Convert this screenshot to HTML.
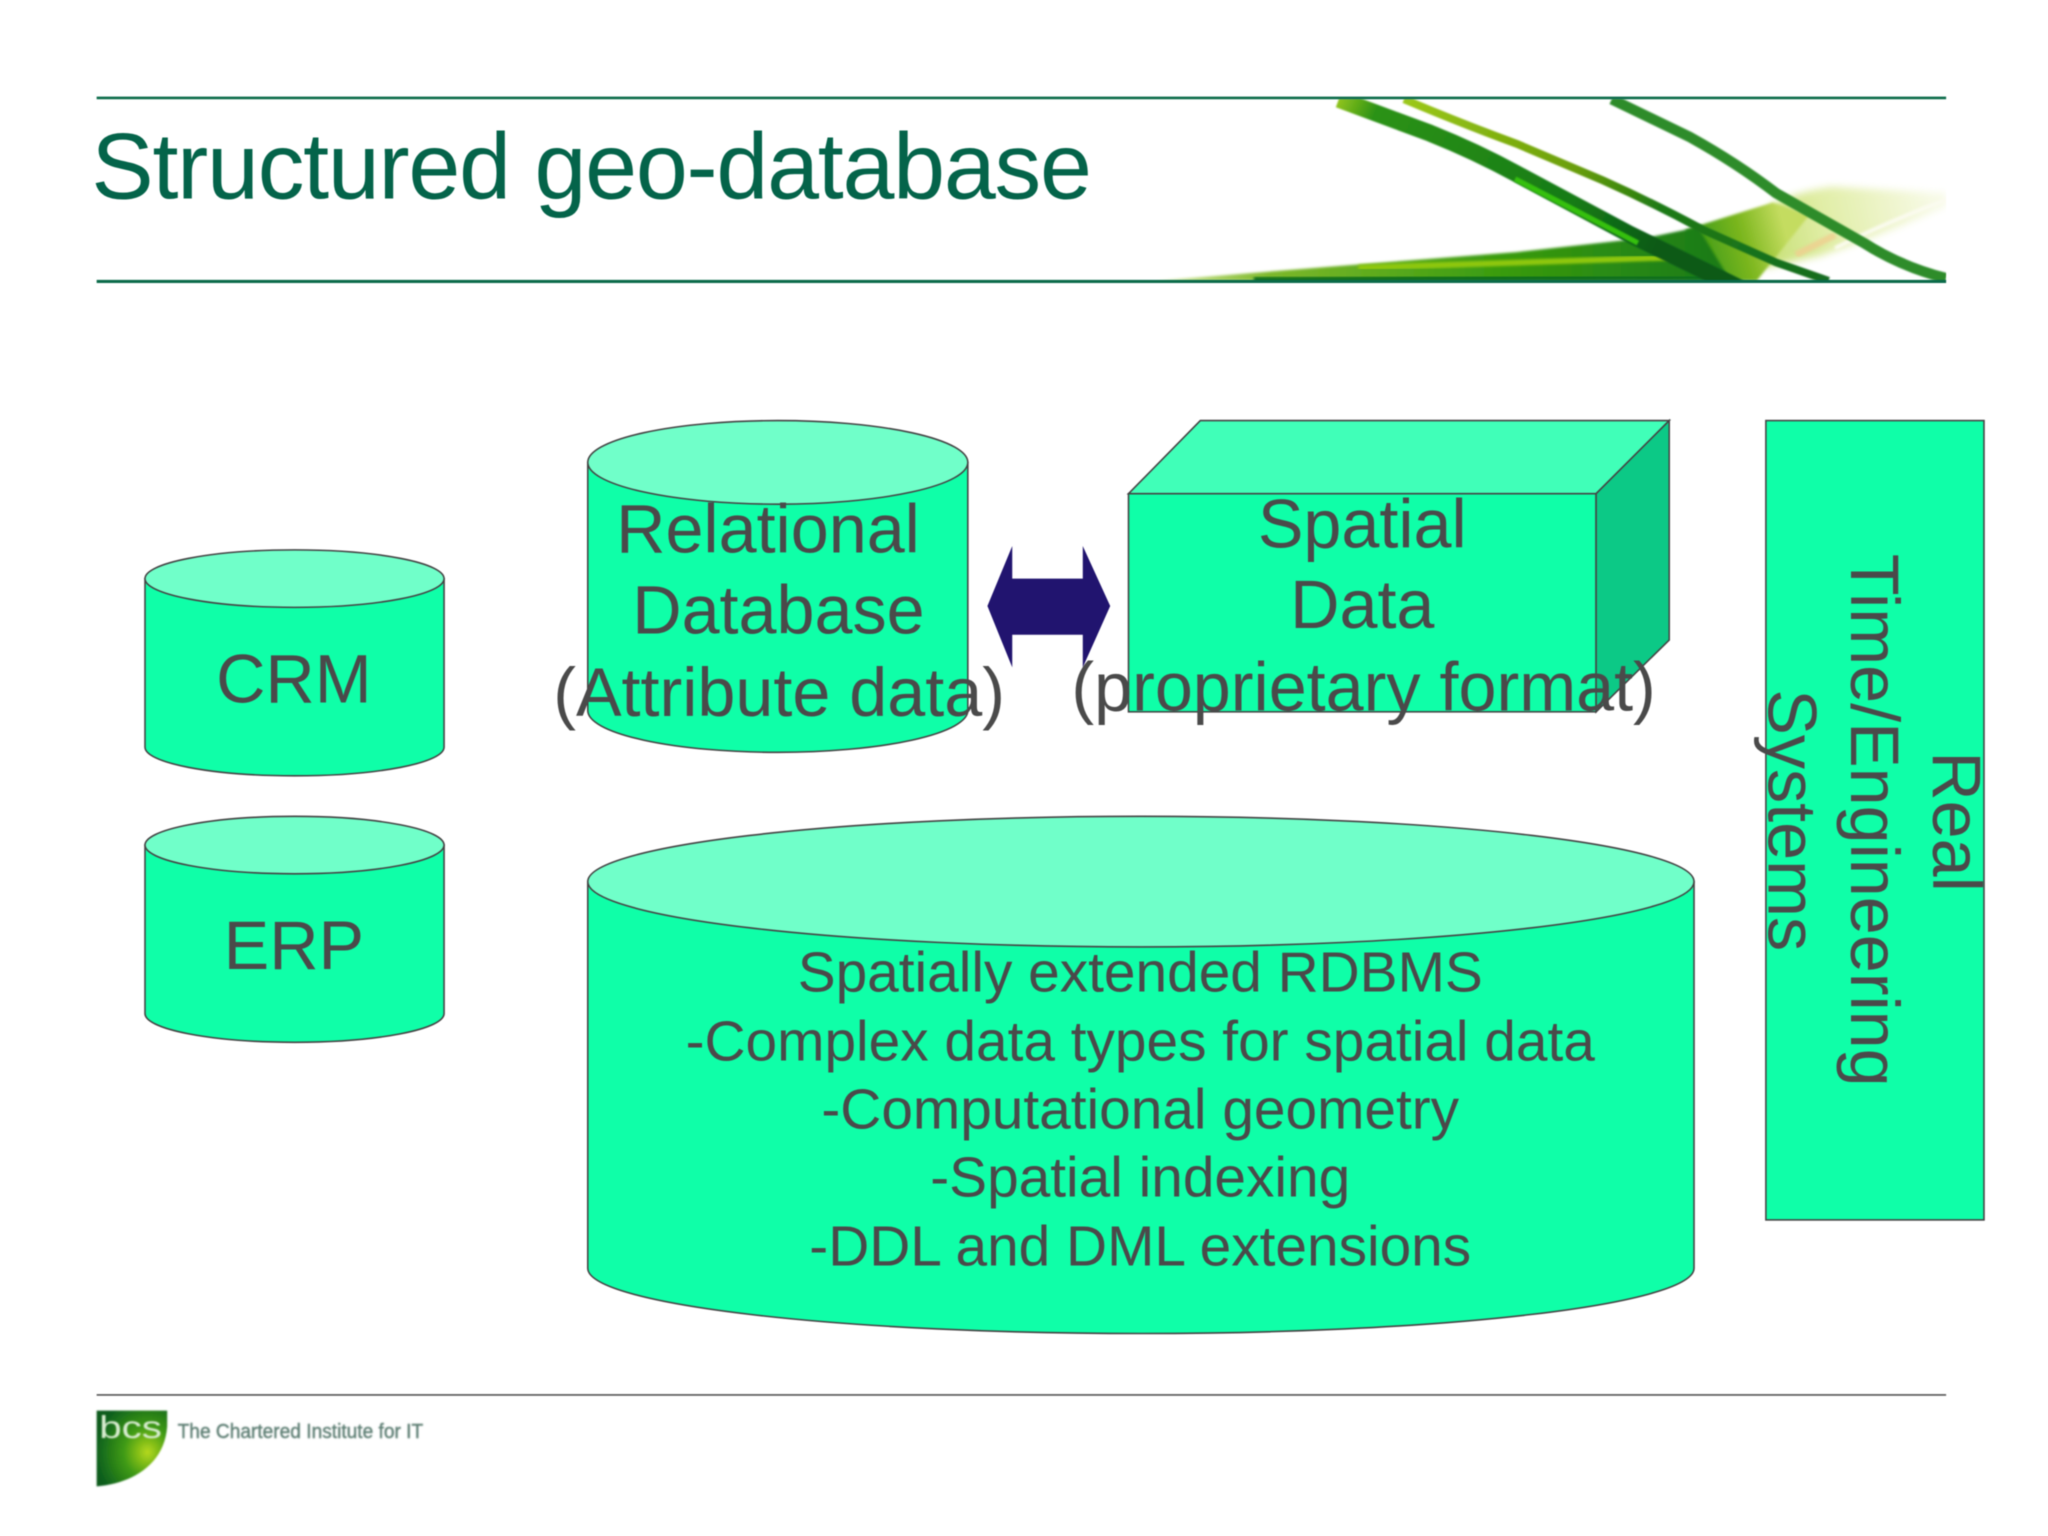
<!DOCTYPE html>
<html><head><meta charset="utf-8"><title>Structured geo-database</title>
<style>html,body{margin:0;padding:0;background:#fff;width:2048px;height:1536px;overflow:hidden}svg{display:block;filter:blur(.4px)}text{font-family:"Liberation Sans",Arial,sans-serif}</style>
</head><body>
<svg width="2048" height="1536" viewBox="0 0 1568 1176" xmlns="http://www.w3.org/2000/svg">
<defs>
<clipPath id="hdr"><rect x="800" y="76" width="690" height="139"/></clipPath>
<linearGradient id="sweep" gradientUnits="userSpaceOnUse" x1="885" y1="0" x2="1320" y2="0"><stop offset="0" stop-color="#d8eca0"/><stop offset=".2" stop-color="#7db82a"/><stop offset=".6" stop-color="#3a9c10"/><stop offset="1" stop-color="#1a7a14"/></linearGradient>
<linearGradient id="mid" gradientUnits="userSpaceOnUse" x1="1290" y1="190" x2="1365" y2="170"><stop offset="0" stop-color="#2f9414"/><stop offset=".6" stop-color="#7fb820"/><stop offset="1" stop-color="#c4dc60"/></linearGradient>
<linearGradient id="haze" gradientUnits="userSpaceOnUse" x1="1340" y1="180" x2="1480" y2="150"><stop offset="0" stop-color="#a8d030"/><stop offset=".4" stop-color="#d4e680"/><stop offset="1" stop-color="#f4f8dc"/></linearGradient>
<linearGradient id="sA" gradientUnits="userSpaceOnUse" x1="1020" y1="76" x2="1330" y2="215"><stop offset="0" stop-color="#a0cc20"/><stop offset=".1" stop-color="#2c9212"/><stop offset=".6" stop-color="#157a14"/><stop offset=".8" stop-color="#0a5a18"/><stop offset="1" stop-color="#0a5a18"/></linearGradient>
<linearGradient id="sB" gradientUnits="userSpaceOnUse" x1="1075" y1="76" x2="1400" y2="214"><stop offset="0" stop-color="#9cc81a"/><stop offset=".4" stop-color="#6a9e08"/><stop offset=".6" stop-color="#1f7a14"/><stop offset="1" stop-color="#136c20"/></linearGradient>
<radialGradient id="shield" cx=".72" cy=".55" r=".75"><stop offset="0" stop-color="#b4d81c"/><stop offset=".45" stop-color="#3f9a14"/><stop offset="1" stop-color="#0a5c1e"/></radialGradient>
<filter id="b1" x="-10%" y="-10%" width="120%" height="120%"><feGaussianBlur stdDeviation="1"/></filter>
<filter id="b3" x="-20%" y="-20%" width="140%" height="140%"><feGaussianBlur stdDeviation="3"/></filter>
<filter id="b04" x="-10%" y="-10%" width="120%" height="120%"><feGaussianBlur stdDeviation="0.6"/></filter>
</defs>

<rect width="1568" height="1176" fill="#fff"/>

<!-- header swoosh -->
<g clip-path="url(#hdr)">
  <path d="M1357 156 Q1380 146 1403 143 L1490 148 L1490 158 Q1440 180 1393 196 L1350 205Z" fill="url(#haze)" opacity=".7" filter="url(#b3)"/>
  <path d="M1490 153 Q1440 172 1405 190" fill="none" stroke="#fbfbf0" stroke-width="3" filter="url(#b1)"/>
  <path d="M1375 195 L1405 180" fill="none" stroke="#efcf90" stroke-width="5" opacity=".8" filter="url(#b1)"/>
  <path d="M1290 176 L1357 155 L1385 165 L1365 190 L1345 215 L1320 215Z" fill="url(#mid)" filter="url(#b1)"/>
  <path d="M885 215 Q1030 203 1161 193 L1261 182 L1300 174 L1325 215Z" fill="url(#sweep)" filter="url(#b1)"/>
  <path d="M1040 205 L1285 197" fill="none" stroke="#8fc810" stroke-width="4.500" filter="url(#b1)"/>
  <path d="M960 214 L1320 212" fill="none" stroke="#0f6e1a" stroke-width="4" filter="url(#b1)"/>
  <path d="M1025 76 L1095 102 Q1130 116 1161 133 L1247 179 L1335 222" fill="none" stroke="url(#sA)" stroke-width="13" filter="url(#b04)"/>
  <path d="M1160 137 L1254 186" fill="none" stroke="#36c010" stroke-width="4" filter="url(#b04)"/>
  <path d="M1075 76 Q1120 95 1161 110 L1227 138 Q1265 155 1304 176 L1360 201 L1400 215" fill="none" stroke="url(#sB)" stroke-width="6" filter="url(#b04)"/>
  <path d="M1234 76 L1294 105 Q1330 125 1360 148 L1427 186 Q1455 204 1490 213" fill="none" stroke="#2f8c2a" stroke-width="8" filter="url(#b04)"/>
</g>

<!-- header lines -->
<line x1="74" y1="75" x2="1490" y2="75" stroke="#0b6b4a" stroke-width="2"/>
<line x1="74" y1="215.500" x2="1490" y2="215.500" stroke="#0b6b4a" stroke-width="2.400"/>

<text x="70" y="152" font-size="71.500" fill="#04644a" textLength="766">Structured geo-database</text>

<!-- CRM -->
<g stroke="#444" stroke-width="1.200">
<path d="M111 443 V572 A114.5 22 0 0 0 340 572 V443Z" fill="#0fffa8"/>
<ellipse cx="225.500" cy="443" rx="114.500" ry="22" fill="#70ffc9"/>
<!-- ERP -->
<path d="M111 647 V776 A114.5 22 0 0 0 340 776 V647Z" fill="#0fffa8"/>
<ellipse cx="225.500" cy="647" rx="114.500" ry="22" fill="#70ffc9"/>
<!-- Relational -->
<path d="M450 354 V544 A145.500 32 0 0 0 741 544 V354Z" fill="#0fffa8"/>
<ellipse cx="595.500" cy="354" rx="145.500" ry="32" fill="#70ffc9"/>
<!-- Big -->
<path d="M450 675 V971 A423.500 50 0 0 0 1297 971 V675Z" fill="#0fffa8"/>
<ellipse cx="873.500" cy="675" rx="423.500" ry="50" fill="#70ffc9"/>
<!-- Box -->
<rect x="864" y="378" width="358" height="167" fill="#0fffa8"/>
<path d="M864 378 L919 322 H1278 L1222 378Z" fill="#40ffb8"/>
<path d="M1222 378 L1278 322 V490 L1222 545Z" fill="#0cc986"/>
<!-- Rect -->
<rect x="1352" y="322" width="167" height="612" fill="#0fffa8"/>
</g>

<!-- arrow -->
<path d="M756 464 L775 418 V443 H829 V418 L850 464 L829 511 V486 H775 V511Z" fill="#21146f"/>

<g fill="#4a4a4a" font-size="52.300" text-anchor="middle">
<text x="225" y="538">CRM</text>
<text x="225" y="742">ERP</text>
<text x="588" y="423">Relational</text>
<text x="596" y="485">Database</text>
<text x="596.500" y="548">(Attribute data)</text>
<text x="1043" y="419">Spatial</text>
<text x="1043" y="481">Data</text>
<text x="1044" y="544">(proprietary format)</text>
<text transform="translate(1480 629) rotate(90)">Real</text>
<text transform="translate(1417 628) rotate(90)">Time/Engineering</text>
<text transform="translate(1354 628) rotate(90)">Systems</text>
</g>
<g fill="#4a4a4a" font-size="43.500" text-anchor="middle">
<text x="873" y="759">Spatially extended RDBMS</text>
<text x="873" y="812">-Complex data types for spatial data</text>
<text x="873" y="864">-Computational geometry</text>
<text x="873" y="916">-Spatial indexing</text>
<text x="873" y="969">-DDL and DML extensions</text>
</g>

<!-- footer -->
<line x1="74" y1="1068" x2="1490" y2="1068" stroke="#555" stroke-width="1.200"/>
<path d="M74 1080 H128 V1092 C126 1122 100 1136 74 1138Z" fill="url(#shield)" filter="url(#b04)"/>
<text x="76" y="1101" font-size="24" fill="#d8ecd0" textLength="48" lengthAdjust="spacingAndGlyphs" filter="url(#b04)">bcs</text>
<text x="136" y="1101" font-size="15.500" fill="#5c7d72" stroke="#5c7d72" stroke-width=".3" textLength="188" lengthAdjust="spacingAndGlyphs" filter="url(#b04)">The Chartered Institute for IT</text>
</svg>
</body></html>
